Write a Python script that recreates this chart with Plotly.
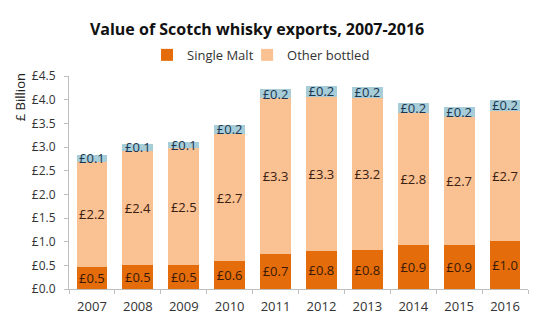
import plotly.graph_objects as go

years = ["2007", "2008", "2009", "2010", "2011", "2012", "2013", "2014", "2015", "2016"]
single_malt = [0.47, 0.50, 0.50, 0.59, 0.74, 0.80, 0.82, 0.92, 0.92, 1.02]
other_bottled = [2.22, 2.42, 2.47, 2.68, 3.29, 3.26, 3.22, 2.80, 2.72, 2.74]
bulk = [0.14, 0.14, 0.14, 0.20, 0.20, 0.23, 0.23, 0.22, 0.21, 0.24]
y_ticks = [0, 0.5, 1.0, 1.5, 2.0, 2.5, 3.0, 3.5, 4.0, 4.5]
y_tick_labels = ["£%.1f" % v for v in y_ticks]

FONT = "Open Sans"

fig = go.Figure()
fig.add_trace(go.Bar(
    x=years, y=single_malt, name="Single Malt", legend="legend",
    marker=dict(color="#E46C0A", line=dict(width=0)),
    texttemplate="£%{y:.1f}", textposition="inside", insidetextanchor="middle",
    constraintext="none", textangle=0,
    textfont=dict(family=FONT, size=13, color="#3a1a06"),
))
fig.add_trace(go.Bar(
    x=years, y=other_bottled, name="Other bottled", legend="legend2",
    marker=dict(color="#FAC193", line=dict(width=0)),
    texttemplate="£%{y:.1f}", textposition="inside", insidetextanchor="middle",
    constraintext="none", textangle=0,
    textfont=dict(family=FONT, size=13, color="#3a2010"),
))
fig.add_trace(go.Bar(
    x=years, y=bulk, name="Bulk", showlegend=False,
    marker=dict(color="#A7CDD8", line=dict(width=0)),
    texttemplate="£%{y:.1f}", textposition="inside", insidetextanchor="middle",
    constraintext="none", textangle=0,
    textfont=dict(family=FONT, size=13, color="#1c3550"),
))

legend_common = dict(
    orientation="h",
    yref="paper", y=1.099, yanchor="middle",
    xref="paper", xanchor="left",
    font=dict(family=FONT, size=13, color="#333333"),
    itemwidth=30,
    bgcolor="rgba(0,0,0,0)",
)

fig.update_layout(
    barmode="stack",
    bargap=0.33,
    width=554, height=332,
    margin=dict(l=69, r=26, t=76, b=43, autoexpand=False),
    paper_bgcolor="white", plot_bgcolor="white",
    font=dict(family=FONT, color="#333333"),
    title=dict(
        text="<b>Value of Scotch whisky exports, 2007-2016</b>",
        font=dict(family=FONT, size=16, color="#111111"),
        xref="container", x=0.464, xanchor="center",
        yref="container", y=0.91, yanchor="middle",
    ),
    legend=dict(legend_common, x=0.17),
    legend2=dict(legend_common, x=0.388),
    showlegend=True,
)
fig.update_xaxes(
    showline=True, linecolor="#bfbfbf", linewidth=1,
    ticks="outside", tickson="boundaries", ticklen=4, tickcolor="#bfbfbf",
    ticklabelstandoff=5,
    tickfont=dict(family=FONT, size=13, color="#333333"),
    showgrid=False,
)
fig.update_yaxes(
    range=[0, 4.5], tickvals=y_ticks, ticktext=y_tick_labels,
    showline=True, linecolor="#bfbfbf", linewidth=1,
    ticks="outside", ticklen=4, tickcolor="#bfbfbf",
    ticklabelstandoff=6,
    tickfont=dict(family=FONT, size=12, color="#333333"),
    showgrid=False, zeroline=False,
)
fig.add_annotation(
    text="£ Billion", textangle=-90,
    xref="paper", x=-0.107, xanchor="center",
    yref="y", y=4.05, yanchor="middle",
    showarrow=False,
    font=dict(family=FONT, size=13, color="#222222"),
)

fig.write_html("out.html")
